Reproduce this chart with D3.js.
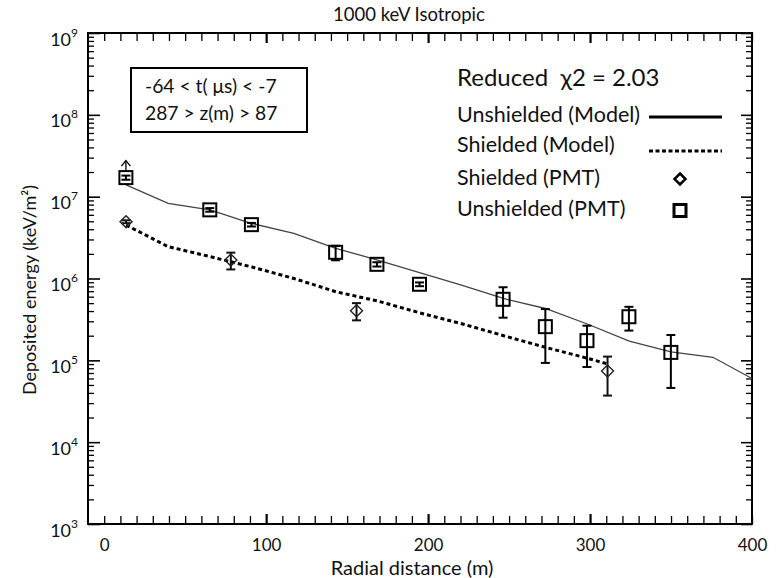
<!DOCTYPE html>
<html>
<head>
<meta charset="utf-8">
<script src="https://cdn.jsdelivr.net/npm/d3@7"></script>
<style>
  body { margin: 0; background: #fff; }
  text { font-family: Lato, "Open Sans", sans-serif; fill: #111; white-space: pre; }
</style>
</head>
<body>
<svg id="chart" width="781" height="578"></svg>
<script>
// Unshielded model: radial distance (m) and deposited energy (keV/m^2)
const unshieldedModelR = [13.5, 39.5, 65.3, 91.2, 117.1, 143, 168.8, 194.7, 220.6, 246.5, 272.4, 298.3, 324.2, 350, 375.9, 400];
const unshieldedModelE = [1.39e7, 8.3e6, 6.9e6, 4.7e6, 3.57e6, 2.34e6, 1.68e6, 1.18e6, 8.3e5, 5.7e5, 4.3e5, 2.78e5, 1.72e5, 1.27e5, 1.09e5, 6.0e4];

// Shielded model
const shieldedModelR = [13.5, 39.5, 65.5, 91.3, 117.2, 143, 169, 195, 220.8, 246.7, 272.5, 298.4, 311];
const shieldedModelE = [4.5e6, 2.45e6, 1.85e6, 1.38e6, 1.0e6, 6.9e5, 5.3e5, 3.8e5, 2.8e5, 2.0e5, 1.44e5, 1.06e5, 9.0e4];

// Unshielded PMT measurements with symmetric errors; first point is a lower limit
const unshieldedPmtR = [13.4, 65.2, 90.9, 142.9, 168.4, 194.7, 246.3, 272.4, 298.1, 324, 349.9];
const unshieldedPmtE = [1.71e7, 6.9e6, 4.55e6, 2.09e6, 1.49e6, 8.5e5, 5.57e5, 2.58e5, 1.74e5, 3.41e5, 1.25e5];
const unshieldedPmtErr = [1.0e6, 3.5e5, 2.3e5, 4.2e5, 9.0e4, 4.5e4, 2.25e5, 1.65e5, 9.1e4, 1.1e5, 7.9e4];
const unshieldedPmtLowerLimit = [true, false, false, false, false, false, false, false, false, false, false];

// Shielded PMT measurements
const shieldedPmtR = [13.5, 78.2, 155.8, 310.8];
const shieldedPmtE = [4.94e6, 1.68e6, 4.04e5, 7.41e4];
const shieldedPmtErr = [2.0e5, 3.9e5, 9.6e4, 3.7e4];

// Axis ticks
const xTickLabels = [0, 100, 200, 300, 400];
const xMajorTicks = [100, 200, 300];
const yDecades = [1e3, 1e4, 1e5, 1e6, 1e7, 1e8, 1e9];

const titleText = "1000 keV Isotropic";
const xTitle = "Radial distance (m)";
const yTitle = "Deposited energy (keV/m²)";
const insetLines = ["-64 < t( \u03BCs) < -7", "287 > z(m) > 87"];
const chiText = "Reduced  \u03C72 = 2.03";
const legendNames = ["Unshielded (Model)", "Shielded (Model)", "Shielded (PMT)", "Unshielded (PMT)"];

const svg = d3.select("#chart");
svg.append("rect").attr("width", 781).attr("height", 578).attr("fill", "#fff");

const mLeft = 88, mRight = 752, mTop = 33, mBottom = 524;
const x = d3.scaleLinear().domain([-10, 400]).range([mLeft, mRight]);
const y = d3.scaleLog().domain([1e3, 1e9]).range([mBottom, mTop]);

// minor log ticks 2..9 in every decade
const yMinor = [];
yDecades.slice(0, -1).forEach(d => { for (let k = 2; k <= 9; k++) yMinor.push(d * k); });
const xMinor = d3.range(0, 401, 10).filter(v => !xMajorTicks.includes(v));

function tickAxis(axis, transform, width) {
  const g = svg.append("g").attr("transform", transform).call(axis);
  g.select(".domain").remove();
  g.selectAll(".tick line").attr("stroke", "#000").attr("stroke-width", width);
  g.selectAll(".tick text").remove();
  return g;
}

// x ticks, bottom (inward) and top (inward)
tickAxis(d3.axisBottom(x).tickValues(xMinor).tickSize(-8), `translate(0,${mBottom})`, 1.3);
tickAxis(d3.axisBottom(x).tickValues(xMajorTicks).tickSize(-10), `translate(0,${mBottom})`, 2.2);
tickAxis(d3.axisTop(x).tickValues(xMinor).tickSize(-8), `translate(0,${mTop})`, 1.3);
tickAxis(d3.axisTop(x).tickValues(xMajorTicks).tickSize(-10), `translate(0,${mTop})`, 2.2);

// y ticks, left and right
tickAxis(d3.axisLeft(y).tickValues(yMinor).tickSize(-6), `translate(${mLeft},0)`, 1.3);
tickAxis(d3.axisLeft(y).tickValues(yDecades).tickSize(-12), `translate(${mLeft},0)`, 1.6);
tickAxis(d3.axisRight(y).tickValues(yMinor).tickSize(-6), `translate(${mRight},0)`, 1.3);
tickAxis(d3.axisRight(y).tickValues(yDecades).tickSize(-11), `translate(${mRight},0)`, 1.6);

// x tick labels
const xl = svg.append("g").attr("transform", `translate(0,${mBottom})`)
  .call(d3.axisBottom(x).tickValues(xTickLabels).tickSize(0).tickPadding(0).tickFormat(d3.format("d")));
xl.select(".domain").remove();
xl.selectAll(".tick line").remove();
xl.selectAll(".tick text").attr("y", 27).attr("dy", null)
  .attr("font-size", 17).attr("fill", "#111").attr("font-family", "Lato, sans-serif");

// y tick labels with superscript exponents
const yl = svg.append("g").attr("transform", `translate(${mLeft},0)`)
  .call(d3.axisLeft(y).tickValues(yDecades).tickSize(0).tickFormat(""));
yl.select(".domain").remove();
yl.selectAll(".tick line").remove();
yl.selectAll(".tick text").remove();
yl.selectAll(".tick").append("text")
  .attr("x", -10).attr("y", 12)
  .attr("text-anchor", "end").attr("font-size", 18)
  .each(function(d) {
    const t = d3.select(this);
    t.append("tspan").text("10");
    t.append("tspan").attr("dy", -9).attr("font-size", 12).text(Math.round(Math.log10(d)));
  });

// frame
svg.append("rect").attr("x", mLeft).attr("y", mTop)
  .attr("width", mRight - mLeft).attr("height", mBottom - mTop)
  .attr("fill", "none").attr("stroke", "#000").attr("stroke-width", 2);

// axis titles
svg.append("text").attr("x", 333).attr("y", 21)
  .attr("font-size", 18.5).text(titleText);
svg.append("text").attr("x", 412).attr("y", 574.5)
  .attr("text-anchor", "middle").attr("font-size", 20).text(xTitle);
svg.append("text").attr("transform", "translate(36,290) rotate(-90)")
  .attr("text-anchor", "middle").attr("font-size", 18).text(yTitle);

// model curves
const line = d3.line().x(d => x(d[0])).y(d => y(d[1]));
const plot = svg.append("g");
plot.append("path").datum(d3.zip(unshieldedModelR, unshieldedModelE))
  .attr("d", line).attr("fill", "none").attr("stroke", "#444").attr("stroke-width", 1.3);
plot.append("path").datum(d3.zip(shieldedModelR, shieldedModelE))
  .attr("d", line).attr("fill", "none").attr("stroke", "#000").attr("stroke-width", 3)
  .attr("stroke-dasharray", "4,3");

// error bars
function errorBars(R, E, Err, color) {
  const data = d3.zip(R, E, Err);
  const g = plot.append("g").attr("stroke", color).attr("stroke-width", 2).attr("fill", "none");
  data.forEach(([r, e, s]) => {
    const cx = x(r), y1 = y(e - s), y2 = y(e + s);
    g.append("line").attr("x1", cx).attr("x2", cx).attr("y1", y1).attr("y2", y2);
    g.append("line").attr("x1", cx - 4.5).attr("x2", cx + 4.5).attr("y1", y1).attr("y2", y1);
    g.append("line").attr("x1", cx - 4.5).attr("x2", cx + 4.5).attr("y1", y2).attr("y2", y2);
  });
}
errorBars(unshieldedPmtR, unshieldedPmtE, unshieldedPmtErr, "#000");
errorBars(shieldedPmtR, shieldedPmtE, shieldedPmtErr, "#111");

// unshielded PMT squares
const sq = 13;
plot.append("g").selectAll("rect").data(d3.zip(unshieldedPmtR, unshieldedPmtE)).join("rect")
  .attr("x", d => x(d[0]) - sq / 2).attr("y", d => y(d[1]) - sq / 2)
  .attr("width", sq).attr("height", sq)
  .attr("fill", "none").attr("stroke", "#000").attr("stroke-width", 2);

// lower-limit arrows
const arrows = plot.append("g").attr("stroke", "#000").attr("stroke-width", 1.3).attr("fill", "none");
d3.zip(unshieldedPmtR, unshieldedPmtE, unshieldedPmtLowerLimit).filter(d => d[2]).forEach(([r, e]) => {
  const cx = x(r), cy = y(e) - sq / 2;
  arrows.append("line").attr("x1", cx).attr("x2", cx).attr("y1", cy).attr("y2", cy - 10);
  arrows.append("path").attr("d", `M${cx - 4.5},${cy - 5}L${cx},${cy - 10.5}L${cx + 4.5},${cy - 5}`);
});

// shielded PMT diamonds
const dm = 6;
plot.append("g").selectAll("path").data(d3.zip(shieldedPmtR, shieldedPmtE)).join("path")
  .attr("d", d => {
    const cx = x(d[0]), cy = y(d[1]);
    return `M${cx},${cy - dm}L${cx + dm},${cy}L${cx},${cy + dm}L${cx - dm},${cy}Z`;
  })
  .attr("fill", "none").attr("stroke", "#222").attr("stroke-width", 1.4);

// inset condition box
svg.append("rect").attr("x", 131).attr("y", 68).attr("width", 176).attr("height", 64)
  .attr("fill", "none").attr("stroke", "#000").attr("stroke-width", 2);
insetLines.forEach((s, i) => {
  svg.append("text").attr("x", 145).attr("y", 93 + i * 27).attr("font-size", 19.3).text(s);
});

// legend
svg.append("text").attr("x", 457).attr("y", 86).attr("font-size", 24).text(chiText);
const legY = [122, 152, 185, 216];
legendNames.forEach((s, i) => {
  svg.append("text").attr("x", 457).attr("y", legY[i]).attr("font-size", 21.5).text(s);
});
svg.append("line").attr("x1", 649).attr("x2", 722).attr("y1", 117).attr("y2", 117)
  .attr("stroke", "#000").attr("stroke-width", 3);
svg.append("line").attr("x1", 649).attr("x2", 722).attr("y1", 151).attr("y2", 151)
  .attr("stroke", "#000").attr("stroke-width", 3).attr("stroke-dasharray", "4,2.5");
svg.append("path").attr("d", "M680,173.5L685.5,179L680,184.5L674.5,179Z")
  .attr("fill", "none").attr("stroke", "#000").attr("stroke-width", 2.5);
svg.append("rect").attr("x", 674).attr("y", 204.5).attr("width", 12).attr("height", 12)
  .attr("fill", "none").attr("stroke", "#000").attr("stroke-width", 3);
</script>
</body>
</html>
